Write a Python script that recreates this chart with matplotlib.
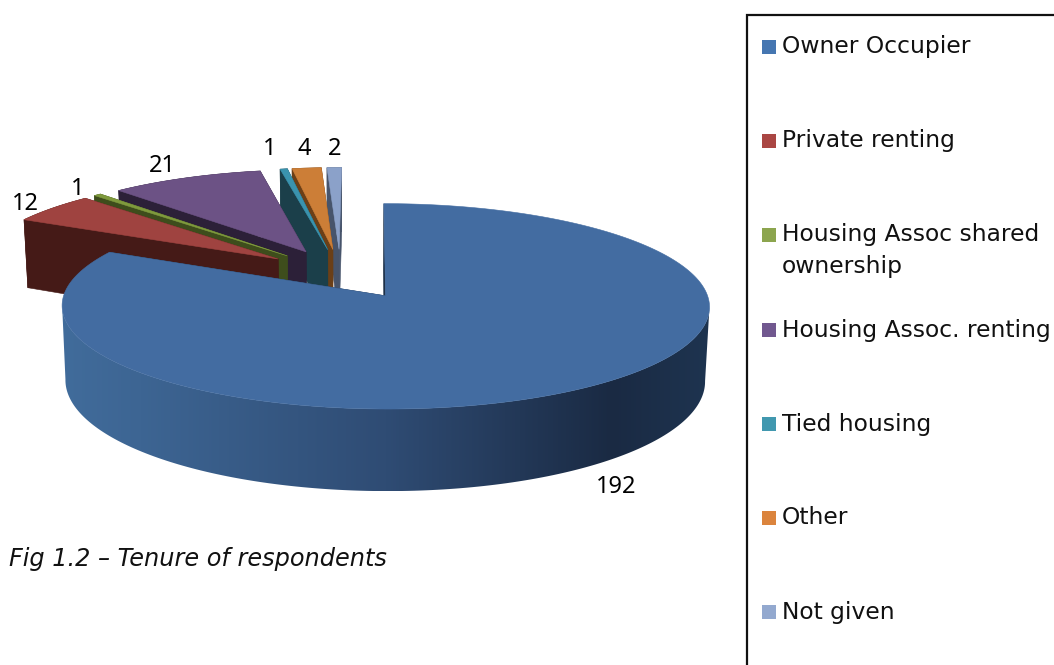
import numpy as np
from matplotlib import pyplot as plt
from matplotlib.colors import LinearSegmentedColormap
from matplotlib.patches import Polygon

plt.rcParams['font.family'] = ['DejaVu Sans']

categories = ['Owner Occupier', 'Private renting', 'Housing Assoc shared\nownership',
              'Housing Assoc. renting', 'Tied housing', 'Other', 'Not given']
values = [192, 12, 1, 21, 1, 4, 2]
caption = 'Fig 1.2 – Tenure of respondents'

top_colors = ['#436ca1', '#9f4340', '#7f9a3d', '#6c5285', '#3a93ae', '#cc7e37', '#8ba1c9']
wall_colors = ['#1d3048', '#451a17', '#3e4d1c', '#2c2038', '#1b3f4a', '#6b3f17', '#47546b']
legend_colors = ['#4576b1', '#aa4643', '#8ca54e', '#71588f', '#4198af', '#db843d', '#93a9cf']

# where the text sits on the page (pixels)
value_pos = [(616, 487), (25, 204), (78, 189), (162, 166), (270, 149), (304, 149), (335, 149)]
legend_y = [47, 141, 235, 330, 424, 518, 612]

# fake 3d view
cx, cy = 340.5, 273
b, a = 314.6, 97
k = 0.1
shear = 2.5
depth = 72
explode = 0.25
explode_main = 0.27
radius_small = 0.97


def project(u, v, z=0.0):
    u, v = np.asarray(u, float), np.asarray(v, float)
    w = 1 / (1 + k * v)
    x = cx + b * u * w * (1 - 0.012 * z) + shear * v
    y = cy - a * v * w + depth * w * z
    return x, y


def fill(xs, ys, color, zorder):
    ax.fill(xs, ys, facecolor=color, edgecolor=color, lw=0.4, zorder=zorder)


fig = plt.figure(figsize=(10.54, 6.65), dpi=100)
ax = fig.add_axes([0, 0, 1, 1])

# slice angles clockwise from north
edges = np.cumsum([0] + values) / sum(values) * 2 * np.pi
side_cmap = LinearSegmentedColormap.from_list(
    'side', [(0, '#416c9b'), (0.12, '#3d6593'), (0.5, '#2f4c74'), (0.85, '#1a2a43'), (1, '#1e3450')])

# far slices first, owner occupier last
order = [6, 5, 4, 3, 2, 1, 0]
z = 1
for i in order:
    t0, t1 = edges[i], edges[i + 1]
    mid = (t0 + t1) / 2
    e = explode_main if i == 0 else explode
    r = 1 if i == 0 else radius_small
    cu, cv = e * np.sin(mid), e * np.cos(mid)
    th = np.linspace(t0, t1, max(int((t1 - t0) * 60), 3))
    ou, ov = cu + r * np.sin(th), cv + r * np.cos(th)

    # cut faces
    for t in (t0, t1):
        us = [cu, cu + r * np.sin(t)]
        vs = [cv, cv + r * np.cos(t)]
        x1, y1 = project(us, vs, 0)
        x2, y2 = project(us, vs, 1)
        fill(np.r_[x1, x2[::-1]], np.r_[y1, y2[::-1]], wall_colors[i], z)
        z += 1

    # outer wall, gradient across the big slice
    x1, y1 = project(ou, ov, 0)
    x2, y2 = project(ou, ov, 1)
    if i == 0:
        # only the part facing us, the back would cancel it out in the clip path
        right = np.argmax(x1)
        left = np.argmin(x1)
        wall_x = np.r_[x1[right:left + 1], x2[right:left + 1][::-1]]
        wall_y = np.r_[y1[right:left + 1], y2[right:left + 1][::-1]]
        grad = np.linspace(0, 1, 512).reshape(1, -1)
        im = ax.imshow(grad, cmap=side_cmap, extent=(wall_x.min(), wall_x.max(), wall_y.max(), wall_y.min()),
                       aspect='auto', zorder=z, interpolation='bilinear')
        clip = Polygon(np.c_[wall_x, wall_y], closed=True, transform=ax.transData, facecolor='none', edgecolor='none')
        ax.add_patch(clip)
        im.set_clip_path(clip)
    else:
        fill(np.r_[x1, x2[::-1]], np.r_[y1, y2[::-1]], wall_colors[i], z)
    z += 1

    # top face
    x, y = project(np.r_[cu, ou], np.r_[cv, ov], 0)
    fill(x, y, top_colors[i], z)
    z += 1

ax.set_xlim(0, 1054)
ax.set_ylim(665, 0)
ax.axis('off')

for val, (x, y) in zip(values, value_pos):
    ax.text(x, y, str(val), fontsize=17, family='Noto Sans', ha='center', va='center', color='black', zorder=z)

ax.text(9, 559, caption, fontsize=17.3, style='italic', ha='left', va='center', color='#111111')

# legend box runs off the page
ax.plot([747, 747, 1054], [665, 15, 15], color='#111111', lw=1.6, solid_joinstyle='miter')
for name, col, y in zip(categories, legend_colors, legend_y):
    ax.fill([762, 776, 776, 762], [y - 7, y - 7, y + 7, y + 7], facecolor=col, edgecolor='none')
    lines = name.split('\n')
    for n, line in enumerate(lines):
        ax.text(782, y + n * 31, line, fontsize=16.8, ha='left', va='center', color='#111111')

plt.savefig('out.png', dpi=100)
